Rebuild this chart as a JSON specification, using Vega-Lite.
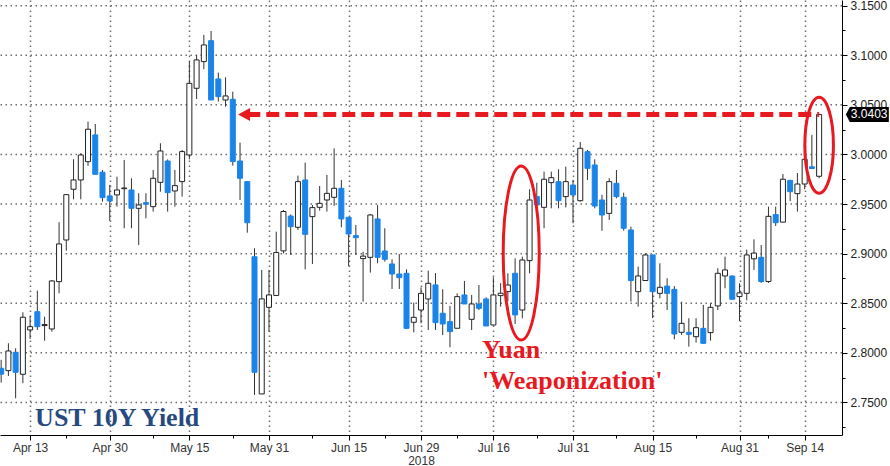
{
  "$schema": "https://vega.github.io/schema/vega-lite/v6.json",
  "width": 842,
  "height": 435,
  "autosize": {"type": "none"},
  "padding": {"left": 0, "top": 0, "right": 48, "bottom": 31},
  "background": "white",
  "config": {"view": {"stroke": null}},
  "datasets": {
    "ohlc": [
      {"d":"2018-04-09","o":2.7845,"h":2.793,"l":2.770,"c":2.7785},
      {"d":"2018-04-10","o":2.7821,"h":2.8097,"l":2.7767,"c":2.8019},
      {"d":"2018-04-11","o":2.8006,"h":2.8046,"l":2.7542,"c":2.7804},
      {"d":"2018-04-12","o":2.7784,"h":2.8409,"l":2.7694,"c":2.8359},
      {"d":"2018-04-13","o":2.8231,"h":2.8372,"l":2.8140,"c":2.8264},
      {"d":"2018-04-16","o":2.8415,"h":2.8627,"l":2.8231,"c":2.8264},
      {"d":"2018-04-17","o":2.8275,"h":2.8365,"l":2.8123,"c":2.8285},
      {"d":"2018-04-18","o":2.8241,"h":2.8735,"l":2.8214,"c":2.8725},
      {"d":"2018-04-19","o":2.8718,"h":2.9317,"l":2.8601,"c":2.9098},
      {"d":"2018-04-20","o":2.9138,"h":2.9595,"l":2.9030,"c":2.9595},
      {"d":"2018-04-23","o":2.9649,"h":2.9952,"l":2.9548,"c":2.9743},
      {"d":"2018-04-24","o":2.9743,"h":3.0012,"l":2.9548,"c":2.9995},
      {"d":"2018-04-25","o":2.9927,"h":3.0331,"l":2.9884,"c":3.0254},
      {"d":"2018-04-26","o":3.0197,"h":3.0307,"l":2.9800,"c":2.9800},
      {"d":"2018-04-27","o":2.9821,"h":2.9844,"l":2.9524,"c":2.9565},
      {"d":"2018-04-30","o":2.9582,"h":2.9693,"l":2.9330,"c":2.9531},
      {"d":"2018-05-01","o":2.9592,"h":2.9776,"l":2.9474,"c":2.9642},
      {"d":"2018-05-02","o":2.9655,"h":2.9945,"l":2.9256,"c":2.9662},
      {"d":"2018-05-03","o":2.9642,"h":2.9760,"l":2.9256,"c":2.9457},
      {"d":"2018-05-04","o":2.9457,"h":2.9609,"l":2.9088,"c":2.9491},
      {"d":"2018-05-07","o":2.9514,"h":2.9609,"l":2.9356,"c":2.9498},
      {"d":"2018-05-08","o":2.9474,"h":2.9844,"l":2.9424,"c":2.9760},
      {"d":"2018-05-09","o":2.9719,"h":3.0113,"l":2.9625,"c":3.0035},
      {"d":"2018-05-10","o":2.9934,"h":2.9950,"l":2.9424,"c":2.9615},
      {"d":"2018-05-11","o":2.9632,"h":2.9844,"l":2.9474,"c":2.9686},
      {"d":"2018-05-14","o":2.9726,"h":3.0045,"l":2.9575,"c":3.0029},
      {"d":"2018-05-15","o":2.9995,"h":3.0936,"l":2.9951,"c":3.0717},
      {"d":"2018-05-16","o":3.0667,"h":3.1003,"l":3.0559,"c":3.0953},
      {"d":"2018-05-17","o":3.0936,"h":3.1205,"l":3.0859,"c":3.1104},
      {"d":"2018-05-18","o":3.1147,"h":3.1245,"l":3.0549,"c":3.0549},
      {"d":"2018-05-21","o":3.0761,"h":3.0825,"l":3.0533,"c":3.0583},
      {"d":"2018-05-22","o":3.0549,"h":3.0778,"l":3.0482,"c":3.0590},
      {"d":"2018-05-23","o":3.0556,"h":3.0633,"l":2.9887,"c":2.9928},
      {"d":"2018-05-24","o":2.9934,"h":3.0119,"l":2.9541,"c":2.9760},
      {"d":"2018-05-25","o":2.9726,"h":2.9730,"l":2.9211,"c":2.9312},
      {"d":"2018-05-29","o":2.8969,"h":2.9054,"l":2.7576,"c":2.7804},
      {"d":"2018-05-30","o":2.7586,"h":2.8836,"l":2.7586,"c":2.8544},
      {"d":"2018-05-31","o":2.8459,"h":2.8836,"l":2.8214,"c":2.8584},
      {"d":"2018-06-01","o":2.8579,"h":2.9222,"l":2.8579,"c":2.9012},
      {"d":"2018-06-04","o":2.9028,"h":2.9440,"l":2.9003,"c":2.9425},
      {"d":"2018-06-05","o":2.9379,"h":2.9396,"l":2.8987,"c":2.9272},
      {"d":"2018-06-06","o":2.9266,"h":2.9787,"l":2.9239,"c":2.9726},
      {"d":"2018-06-07","o":2.9743,"h":2.9918,"l":2.8842,"c":2.9195},
      {"d":"2018-06-08","o":2.9373,"h":2.9491,"l":2.8896,"c":2.9464},
      {"d":"2018-06-11","o":2.9467,"h":2.9682,"l":2.9434,"c":2.9507},
      {"d":"2018-06-12","o":2.9541,"h":2.9793,"l":2.9424,"c":2.9608},
      {"d":"2018-06-13","o":2.9568,"h":3.0062,"l":2.9481,"c":2.9659},
      {"d":"2018-06-14","o":2.9659,"h":2.9743,"l":2.9266,"c":2.9350},
      {"d":"2018-06-15","o":2.9367,"h":2.9370,"l":2.8874,"c":2.9198},
      {"d":"2018-06-18","o":2.9182,"h":2.9289,"l":2.8987,"c":2.9161},
      {"d":"2018-06-19","o":2.8950,"h":2.9020,"l":2.8516,"c":2.8975},
      {"d":"2018-06-20","o":2.8963,"h":2.9400,"l":2.8809,"c":2.9390},
      {"d":"2018-06-21","o":2.9350,"h":2.9491,"l":2.8903,"c":2.8963},
      {"d":"2018-06-22","o":2.9027,"h":2.9256,"l":2.8920,"c":2.8943},
      {"d":"2018-06-25","o":2.8896,"h":2.8943,"l":2.8644,"c":2.8795},
      {"d":"2018-06-26","o":2.8795,"h":2.8997,"l":2.8644,"c":2.8758},
      {"d":"2018-06-27","o":2.8802,"h":2.8842,"l":2.8247,"c":2.8247},
      {"d":"2018-06-28","o":2.8308,"h":2.8506,"l":2.8207,"c":2.8358},
      {"d":"2018-06-29","o":2.8432,"h":2.8661,"l":2.8298,"c":2.8600},
      {"d":"2018-07-02","o":2.8543,"h":2.8829,"l":2.8231,"c":2.8701},
      {"d":"2018-07-03","o":2.8685,"h":2.8804,"l":2.8231,"c":2.8305},
      {"d":"2018-07-05","o":2.8399,"h":2.8641,"l":2.8180,"c":2.8291},
      {"d":"2018-07-06","o":2.8315,"h":2.8473,"l":2.8056,"c":2.8214},
      {"d":"2018-07-09","o":2.8248,"h":2.8600,"l":2.8248,"c":2.8567},
      {"d":"2018-07-10","o":2.8584,"h":2.8725,"l":2.8493,"c":2.8493},
      {"d":"2018-07-11","o":2.8338,"h":2.8584,"l":2.8231,"c":2.8493},
      {"d":"2018-07-12","o":2.8493,"h":2.8684,"l":2.8432,"c":2.8449},
      {"d":"2018-07-13","o":2.8543,"h":2.8560,"l":2.8271,"c":2.8271},
      {"d":"2018-07-16","o":2.8281,"h":2.8762,"l":2.8281,"c":2.8584},
      {"d":"2018-07-17","o":2.8577,"h":2.8703,"l":2.8466,"c":2.8601},
      {"d":"2018-07-18","o":2.8617,"h":2.8802,"l":2.8520,"c":2.8684},
      {"d":"2018-07-19","o":2.8802,"h":2.8953,"l":2.8291,"c":2.8382},
      {"d":"2018-07-20","o":2.8432,"h":2.8970,"l":2.8348,"c":2.8936},
      {"d":"2018-07-23","o":2.8930,"h":2.9649,"l":2.8802,"c":2.9541},
      {"d":"2018-07-24","o":2.9575,"h":2.9716,"l":2.9491,"c":2.9491},
      {"d":"2018-07-25","o":2.9467,"h":2.9827,"l":2.9256,"c":2.9750},
      {"d":"2018-07-26","o":2.9716,"h":2.9827,"l":2.9457,"c":2.9766},
      {"d":"2018-07-27","o":2.9726,"h":2.9850,"l":2.9457,"c":2.9534},
      {"d":"2018-07-30","o":2.9575,"h":2.9877,"l":2.9467,"c":2.9726},
      {"d":"2018-07-31","o":2.9692,"h":2.9743,"l":2.9306,"c":2.9592},
      {"d":"2018-08-01","o":2.9534,"h":3.0125,"l":2.9524,"c":3.0062},
      {"d":"2018-08-02","o":3.0028,"h":3.0045,"l":2.9743,"c":2.9860},
      {"d":"2018-08-03","o":2.9894,"h":2.9951,"l":2.9457,"c":2.9480},
      {"d":"2018-08-06","o":2.9541,"h":2.9592,"l":2.9230,"c":2.9390},
      {"d":"2018-08-07","o":2.9406,"h":2.9760,"l":2.9340,"c":2.9726},
      {"d":"2018-08-08","o":2.9709,"h":2.9843,"l":2.9558,"c":2.9575},
      {"d":"2018-08-09","o":2.9568,"h":2.9615,"l":2.9232,"c":2.9256},
      {"d":"2018-08-10","o":2.9239,"h":2.9272,"l":2.8517,"c":2.8729},
      {"d":"2018-08-13","o":2.8617,"h":2.8869,"l":2.8466,"c":2.8775},
      {"d":"2018-08-14","o":2.8729,"h":2.9004,"l":2.8729,"c":2.8987},
      {"d":"2018-08-15","o":2.8987,"h":2.8990,"l":2.8349,"c":2.8617},
      {"d":"2018-08-16","o":2.8600,"h":2.8903,"l":2.8550,"c":2.8661},
      {"d":"2018-08-17","o":2.8673,"h":2.8752,"l":2.8432,"c":2.8600},
      {"d":"2018-08-20","o":2.8640,"h":2.8673,"l":2.8137,"c":2.8190},
      {"d":"2018-08-21","o":2.8207,"h":2.8516,"l":2.8180,"c":2.8298},
      {"d":"2018-08-22","o":2.8207,"h":2.8349,"l":2.8063,"c":2.8187},
      {"d":"2018-08-23","o":2.8163,"h":2.8349,"l":2.8103,"c":2.8254},
      {"d":"2018-08-24","o":2.8247,"h":2.8483,"l":2.8096,"c":2.8096},
      {"d":"2018-08-27","o":2.8204,"h":2.8500,"l":2.8123,"c":2.8459},
      {"d":"2018-08-28","o":2.8473,"h":2.8853,"l":2.8432,"c":2.8802},
      {"d":"2018-08-29","o":2.8775,"h":2.8970,"l":2.8651,"c":2.8836},
      {"d":"2018-08-30","o":2.8775,"h":2.8780,"l":2.8540,"c":2.8540},
      {"d":"2018-08-31","o":2.8567,"h":2.8700,"l":2.8320,"c":2.8605},
      {"d":"2018-09-04","o":2.8600,"h":2.9040,"l":2.8530,"c":2.8987},
      {"d":"2018-09-05","o":2.8948,"h":2.9144,"l":2.8836,"c":2.9006},
      {"d":"2018-09-06","o":2.8963,"h":2.9087,"l":2.8705,"c":2.8719},
      {"d":"2018-09-07","o":2.8719,"h":2.9474,"l":2.8705,"c":2.9376},
      {"d":"2018-09-10","o":2.9394,"h":2.9474,"l":2.9279,"c":2.9312},
      {"d":"2018-09-11","o":2.9318,"h":2.9803,"l":2.9318,"c":2.9750},
      {"d":"2018-09-12","o":2.9738,"h":2.9745,"l":2.9530,"c":2.9625},
      {"d":"2018-09-13","o":2.9605,"h":2.9813,"l":2.9424,"c":2.9702},
      {"d":"2018-09-14","o":2.9702,"h":2.9990,"l":2.9649,"c":2.9951},
      {"d":"2018-09-17","o":2.9876,"h":3.0197,"l":2.9856,"c":2.9858},
      {"d":"2018-09-18","o":2.9780,"h":3.0403,"l":2.9760,"c":3.0403}
    ]
  },
  "encoding": {
    "y": {
      "field": "l",
      "type": "quantitative",
      "title": null,
      "scale": {"domain": [2.7172, 3.1557], "zero": false, "nice": false},
      "axis": {
        "orient": "right",
        "title": null,
        "values": [2.725, 2.75, 2.775, 2.8, 2.825, 2.85, 2.875, 2.9, 2.925, 2.95, 2.975, 3.0, 3.025, 3.05, 3.075, 3.1, 3.125, 3.15],
        "labelExpr": "round(datum.value * 1000) % 50 == 0 ? format(datum.value, '.4f') : ''",
        "labelOverlap": false,
        "labelFont": "Liberation Sans",
        "labelFontSize": 12,
        "labelColor": "#222222",
        "labelPadding": 3,
        "domainColor": "#000000",
        "tickColor": "#000000",
        "tickSize": {"condition": {"test": "round(datum.value * 1000) % 50 != 0", "value": 3}, "value": 5},
        "grid": false
      }
    }
  },
  "layer": [
    {
      "data": {"values": [{"l": 2.75}, {"l": 2.8}, {"l": 2.85}, {"l": 2.9}, {"l": 2.95}, {"l": 3.0}, {"l": 3.05}, {"l": 3.1}, {"l": 3.15}]},
      "mark": {"type": "rule", "color": "#6e6e6e", "strokeWidth": 1.5, "strokeDash": [1.5, 3.5]}
    },
    {
      "encoding": {
        "x": {
          "field": "d",
          "type": "ordinal",
          "title": null,
          "scale": {
            "type": "point",
            "padding": 0.16,
            "domain": ["2018-04-09","2018-04-10","2018-04-11","2018-04-12","2018-04-13","2018-04-16","2018-04-17","2018-04-18","2018-04-19","2018-04-20","2018-04-23","2018-04-24","2018-04-25","2018-04-26","2018-04-27","2018-04-30","2018-05-01","2018-05-02","2018-05-03","2018-05-04","2018-05-07","2018-05-08","2018-05-09","2018-05-10","2018-05-11","2018-05-14","2018-05-15","2018-05-16","2018-05-17","2018-05-18","2018-05-21","2018-05-22","2018-05-23","2018-05-24","2018-05-25","2018-05-29","2018-05-30","2018-05-31","2018-06-01","2018-06-04","2018-06-05","2018-06-06","2018-06-07","2018-06-08","2018-06-11","2018-06-12","2018-06-13","2018-06-14","2018-06-15","2018-06-18","2018-06-19","2018-06-20","2018-06-21","2018-06-22","2018-06-25","2018-06-26","2018-06-27","2018-06-28","2018-06-29","2018-07-02","2018-07-03","2018-07-05","2018-07-06","2018-07-09","2018-07-10","2018-07-11","2018-07-12","2018-07-13","2018-07-16","2018-07-17","2018-07-18","2018-07-19","2018-07-20","2018-07-23","2018-07-24","2018-07-25","2018-07-26","2018-07-27","2018-07-30","2018-07-31","2018-08-01","2018-08-02","2018-08-03","2018-08-06","2018-08-07","2018-08-08","2018-08-09","2018-08-10","2018-08-13","2018-08-14","2018-08-15","2018-08-16","2018-08-17","2018-08-20","2018-08-21","2018-08-22","2018-08-23","2018-08-24","2018-08-27","2018-08-28","2018-08-29","2018-08-30","2018-08-31","2018-09-04","2018-09-05","2018-09-06","2018-09-07","2018-09-10","2018-09-11","2018-09-12","2018-09-13","2018-09-14","2018-09-17","2018-09-18","2018-09-19","2018-09-20","2018-09-21"]
          },
          "axis": {
            "title": null,
            "values": ["2018-04-13","2018-04-20","2018-04-30","2018-05-08","2018-05-15","2018-05-23","2018-05-31","2018-06-08","2018-06-15","2018-06-22","2018-06-29","2018-07-09","2018-07-16","2018-07-24","2018-07-31","2018-08-08","2018-08-15","2018-08-23","2018-08-31","2018-09-07","2018-09-14"],
            "labelExpr": "datum.value == '2018-06-29' ? ['Jun 29', '2018'] : (indexof('2018-04-13,2018-04-30,2018-05-15,2018-05-31,2018-06-15,2018-07-16,2018-07-31,2018-08-15,2018-08-31,2018-09-14', datum.value) >= 0 ? utcFormat(toDate(datum.value), '%b %d') : '')",
            "labelAngle": 0,
            "labelOverlap": false,
            "labelFont": "Liberation Sans",
            "labelFontSize": 12,
            "labelColor": "#333333",
            "labelPadding": 2,
            "labelLineHeight": 13,
            "domainColor": "#000000",
            "domainWidth": 1,
            "tickColor": "#000000",
            "tickSize": {"condition": {"test": "indexof('2018-04-13,2018-04-30,2018-05-15,2018-05-31,2018-06-15,2018-06-29,2018-07-16,2018-07-31,2018-08-15,2018-08-31,2018-09-14', datum.value) < 0", "value": 3}, "value": 5},
            "grid": true,
            "gridColor": "#6e6e6e",
            "gridDash": [1.5, 3.5],
            "gridWidth": 1.5,
            "gridOpacity": {"condition": {"test": "indexof('2018-04-13,2018-04-30,2018-05-15,2018-05-31,2018-06-15,2018-06-29,2018-07-16,2018-07-31,2018-08-15,2018-08-31,2018-09-14', datum.value) < 0", "value": 0}, "value": 1}
          }
        }
      },
      "layer": [
        {
          "data": {"name": "ohlc"},
          "mark": {"type": "rule", "color": "#333333", "strokeWidth": 1},
          "encoding": {
            "y2": {"field": "h"}
          }
        },
        {
          "data": {"name": "ohlc"},
          "mark": {"type": "bar", "size": 5, "strokeWidth": 1},
          "encoding": {
            "y": {"field": "o", "type": "quantitative", "title": null},
            "y2": {"field": "c"},
            "fill": {"condition": {"test": "datum.c >= datum.o", "value": "#ffffff"}, "value": "#1b84e8"},
            "stroke": {"condition": {"test": "datum.c >= datum.o", "value": "#222222"}, "value": "#1b84e8"}
          }
        },
        {
          "data": {"values": [{"d": "2018-05-25", "d2": "2018-09-18", "l": 3.0403}]},
          "mark": {"type": "rule", "color": "#e8191f", "strokeWidth": 5, "strokeDash": [13, 6]},
          "encoding": {
            "x2": {"field": "d2"}
          }
        },
        {
          "data": {"values": [{"d": "2018-05-24", "l": 3.0403}]},
          "mark": {"type": "point", "shape": "M -0.2 0 L 1.0 -0.65 L 1.0 0.65 Z", "size": 400, "filled": true, "color": "#e8191f", "opacity": 1}
        },
        {
          "data": {"values": [{"d": "2018-07-20", "l": 2.9007}]},
          "mark": {"type": "point", "shape": "M 0.194 0 C 0.194 0.552 0.101 1 -0.013 1 C -0.127 1 -0.22 0.552 -0.22 0 C -0.22 -0.552 -0.127 -1 -0.013 -1 C 0.101 -1 0.194 -0.552 0.194 0 Z", "size": 30276, "filled": false, "stroke": "#e8191f", "strokeWidth": 3, "opacity": 1}
        },
        {
          "data": {"values": [{"d": "2018-09-18", "l": 3.0093}]},
          "mark": {"type": "point", "shape": "M 0.298 0 C 0.298 0.552 0.165 1 0 1 C -0.165 1 -0.298 0.552 -0.298 0 C -0.298 -0.552 -0.165 -1 0 -1 C 0.165 -1 0.298 -0.552 0.298 0 Z", "size": 9216, "filled": false, "stroke": "#e8191f", "strokeWidth": 3, "opacity": 1}
        },
        {
          "data": {"values": [{"d": "2018-09-21", "l": 3.0403, "t": "3.0403"}]},
          "mark": {"type": "point", "shape": "M 0.1 0 L 0.18 -0.15 L 0.96 -0.15 L 0.96 0.15 L 0.18 0.15 Z", "size": 10000, "filled": true, "color": "#000000", "opacity": 1}
        },
        {
          "data": {"values": [{"d": "2018-09-21", "l": 3.0403, "t": "3.0403"}]},
          "mark": {"type": "text", "align": "left", "baseline": "middle", "dx": 10, "font": "Liberation Sans", "fontSize": 12, "color": "#ffffff"},
          "encoding": {
            "text": {"field": "t"}
          }
        },
        {
          "data": {"values": [{"d": "2018-07-12", "l": 2.7949, "t": "Yuan"}, {"d": "2018-07-12", "l": 2.7631, "t": "'Weaponization'"}]},
          "mark": {"type": "text", "align": "left", "baseline": "alphabetic", "dx": 3, "font": "Liberation Serif", "fontWeight": "bold", "fontSize": 26, "color": "#e8191f"},
          "encoding": {
            "text": {"field": "t"}
          }
        },
        {
          "data": {"values": [{"d": "2018-04-13", "l": 2.7263, "t": "UST 10Y Yield"}]},
          "mark": {"type": "text", "align": "left", "baseline": "alphabetic", "dx": 5, "font": "Liberation Serif", "fontWeight": "bold", "fontSize": 26, "color": "#264a80"},
          "encoding": {
            "text": {"field": "t"}
          }
        }
      ]
    }
  ]
}
